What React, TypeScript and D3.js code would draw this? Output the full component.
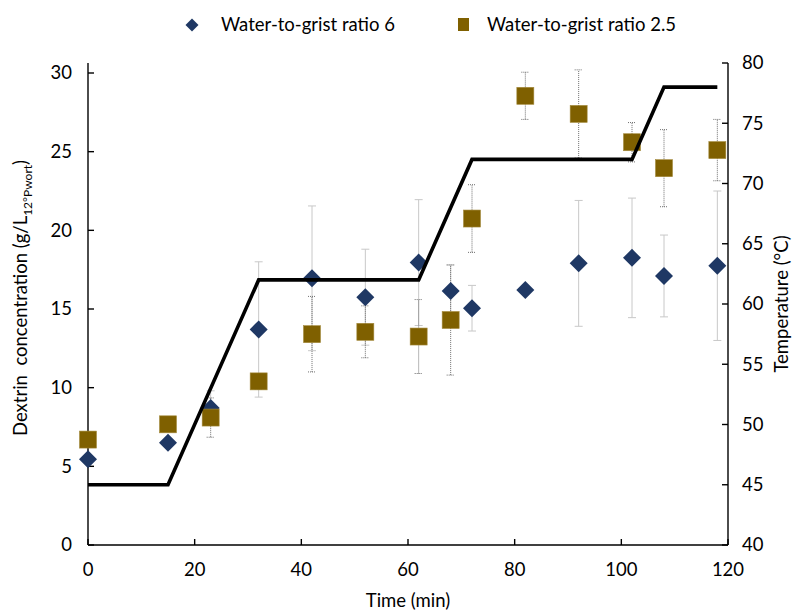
import React from "react";
import * as d3 from "d3";

// ---- data ----
const timesMin = [0, 15, 23, 32, 42, 52, 62, 68, 72, 82, 92, 102, 108, 118];
const dextrinRatio6 = [5.45, 6.5, 8.7, 13.7, 16.95, 15.75, 17.95, 16.15, 15.05, 16.2, 17.9, 18.25, 17.1, 17.75];
const errRatio6 = [0, 0, 1.1, 4.3, 4.6, 3.05, 4.0, 1.65, 1.45, 0, 4.0, 3.8, 2.6, 4.75];
const dextrinRatio25 = [6.7, 7.67, 8.1, 10.4, 13.4, 13.55, 13.25, 14.3, 20.75, 28.55, 27.4, 25.6, 23.95, 25.1];
const errRatio25 = [0, 0, 1.25, 0.5, 2.4, 1.65, 2.35, 3.5, 2.15, 1.5, 2.8, 1.25, 2.45, 1.95];
const tempTimes = [0, 15, 32, 62, 72, 102, 108, 118];
const tempValues = [45, 45, 62, 62, 72, 72, 78, 78];
const xTicks = [0, 20, 40, 60, 80, 100, 120];
const leftTicks = [0, 5, 10, 15, 20, 25, 30];
const rightTicks = [40, 45, 50, 55, 60, 65, 70, 75, 80];
const seriesNames = ["Water-to-grist ratio 6", "Water-to-grist ratio 2.5"];

const FONT = "Lato, 'Open Sans', sans-serif";
const NAVY = "#1F3864";
const OLIVE = "#7F6000";
const FS = 18.5;

export default function App() {
  const x = d3.scaleLinear().domain([0, 120]).range([88, 728]);
  const yL = d3.scaleLinear().domain([0, 30]).range([545, 73]);
  const yR = d3.scaleLinear().domain([40, 80]).range([545, 63]);
  const top = 63, bottom = 545, left = 88, right = 728;

  const line = d3
    .line<number>()
    .x((_, i) => x(tempTimes[i]))
    .y((v) => yR(v));

  const diamond = (cx: number, cy: number, r: number) =>
    `M${cx},${cy - r}L${cx + r},${cy}L${cx},${cy + r}L${cx - r},${cy}Z`;

  const capW = 4;

  return (
    <svg
      width={793}
      height={612}
      style={{ position: "absolute", left: 0, top: 0, background: "#fff" }}
      fontFamily={FONT}
    >
      <rect width={793} height={612} fill="#fff" />
      {/* axes */}
      <g stroke="#000" strokeWidth={1.4} fill="none">
        <line x1={left} y1={top} x2={left} y2={bottom} />
        <line x1={right} y1={top} x2={right} y2={bottom} />
        <line x1={left} y1={bottom} x2={right} y2={bottom} />
        {leftTicks.map((t) => (
          <line key={"lt" + t} x1={left} x2={left + 6} y1={yL(t)} y2={yL(t)} />
        ))}
        {rightTicks.map((t) => (
          <line key={"rt" + t} x1={right - 6} x2={right} y1={yR(t)} y2={yR(t)} />
        ))}
        {xTicks.map((t) => (
          <line key={"xt" + t} x1={x(t)} x2={x(t)} y1={bottom} y2={bottom - 6} />
        ))}
      </g>
      {/* tick labels */}
      <g fontSize={FS} fill="#000">
        {leftTicks.map((t) => (
          <text key={"ll" + t} x={72} y={yL(t)} dy="0.35em" textAnchor="end">
            {t}
          </text>
        ))}
        {rightTicks.map((t) => (
          <text key={"rl" + t} x={742} y={yR(t)} dy="0.35em" textAnchor="start">
            {t}
          </text>
        ))}
        {xTicks.map((t) => (
          <text key={"xl" + t} x={x(t)} y={570} dy="0.35em" textAnchor="middle">
            {t}
          </text>
        ))}
      </g>
      {/* axis titles */}
      <text x={408} y={601} dy="0.35em" textAnchor="middle" fontSize={FS}>
        Time (min)
      </text>
      <text
        transform={`translate(21,298) rotate(-90)`}
        textAnchor="middle"
        dy="0.35em"
        fontSize={FS}
        style={{ whiteSpace: "pre" }}
      >
        {"Dextrin  concentration (g/L"}
        <tspan fontSize={12} dy="5">12°Pwort</tspan>
        <tspan dy="-5">)</tspan>
      </text>
      <text
        transform={`translate(782,304) rotate(-90)`}
        textAnchor="middle"
        dy="0.35em"
        fontSize={FS}
      >
        Temperature (°C)
      </text>

      {/* error bars ratio 6 (light solid) */}
      <g stroke="#c8c8c8" strokeWidth={1} fill="none">
        {timesMin.map((t, i) =>
          errRatio6[i] > 0 ? (
            <g key={"e6" + i}>
              <line x1={x(t)} x2={x(t)} y1={yL(dextrinRatio6[i] - errRatio6[i])} y2={yL(dextrinRatio6[i] + errRatio6[i])} />
              <line x1={x(t) - capW} x2={x(t) + capW} y1={yL(dextrinRatio6[i] + errRatio6[i])} y2={yL(dextrinRatio6[i] + errRatio6[i])} />
              <line x1={x(t) - capW} x2={x(t) + capW} y1={yL(dextrinRatio6[i] - errRatio6[i])} y2={yL(dextrinRatio6[i] - errRatio6[i])} />
            </g>
          ) : null
        )}
      </g>
      {/* error bars ratio 2.5 (dark dotted) */}
      <g stroke="#6f6f6f" strokeWidth={1} fill="none" strokeDasharray="1,1">
        {timesMin.map((t, i) =>
          errRatio25[i] > 0 ? (
            <g key={"e25" + i}>
              <line x1={x(t)} x2={x(t)} y1={yL(dextrinRatio25[i] - errRatio25[i])} y2={yL(dextrinRatio25[i] + errRatio25[i])} />
              <line x1={x(t) - capW} x2={x(t) + capW} y1={yL(dextrinRatio25[i] + errRatio25[i])} y2={yL(dextrinRatio25[i] + errRatio25[i])} />
              <line x1={x(t) - capW} x2={x(t) + capW} y1={yL(dextrinRatio25[i] - errRatio25[i])} y2={yL(dextrinRatio25[i] - errRatio25[i])} />
            </g>
          ) : null
        )}
      </g>

      {/* markers ratio 6 */}
      <g fill={NAVY}>
        {timesMin.map((t, i) => (
          <path key={"d" + i} d={diamond(x(t), yL(dextrinRatio6[i]), 9)} />
        ))}
      </g>
      {/* markers ratio 2.5 */}
      <g fill={OLIVE} stroke="#a48a3c" strokeWidth={0.6}>
        {timesMin.map((t, i) => (
          <rect key={"s" + i} x={x(t) - 8.5} y={yL(dextrinRatio25[i]) - 8.5} width={17} height={17} />
        ))}
      </g>

      {/* temperature line */}
      <path d={line(tempValues) || ""} fill="none" stroke="#000" strokeWidth={3.6} strokeLinejoin="miter" />

      {/* legend */}
      <path d={diamond(192, 25, 6.5)} fill={NAVY} />
      <text x={221} y={25} dy="0.35em" fontSize={FS}>
        {seriesNames[0]}
      </text>
      <rect x={458} y={18} width={11} height={13} fill={OLIVE} />
      <text x={487} y={25} dy="0.35em" fontSize={FS}>
        {seriesNames[1]}
      </text>
    </svg>
  );
}
